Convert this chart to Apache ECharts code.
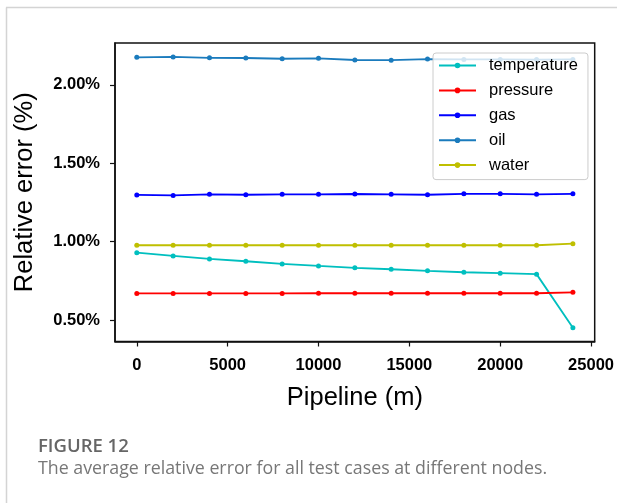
<!DOCTYPE html>
<html>
<head>
<meta charset="utf-8">
<script src="https://cdn.jsdelivr.net/npm/echarts@6/dist/echarts.min.js"></script>
<style>
html,body{margin:0;padding:0;background:#fff;}
#chart{width:617px;height:503px;}
</style>
</head>
<body>
<div id="chart"></div>
<script>
// ---- data ----
const pipeline = [0, 2000, 4000, 6000, 8000, 10000, 12000, 14000, 16000, 18000, 20000, 22000, 24000];
const seriesNames = ['temperature', 'pressure', 'gas', 'oil', 'water'];
const temperature = [0.930, 0.909, 0.890, 0.875, 0.858, 0.845, 0.833, 0.824, 0.814, 0.805, 0.799, 0.793, 0.451];
const pressure = [0.670, 0.670, 0.670, 0.670, 0.670, 0.671, 0.671, 0.671, 0.671, 0.671, 0.671, 0.671, 0.677];
const gas = [1.298, 1.295, 1.302, 1.299, 1.302, 1.302, 1.304, 1.302, 1.299, 1.305, 1.305, 1.302, 1.305];
const oil = [2.175, 2.178, 2.172, 2.171, 2.166, 2.169, 2.158, 2.157, 2.164, 2.162, 2.162, 2.161, 2.162];
const water = [0.977, 0.977, 0.977, 0.977, 0.977, 0.977, 0.977, 0.977, 0.977, 0.977, 0.977, 0.977, 0.987];
const xTicks = [0, 5000, 10000, 15000, 20000, 25000];
const yTicks = [0.5, 1.0, 1.5, 2.0];
const xTitle = 'Pipeline (m)';
const yTitle = 'Relative error (%)';
const figLabel = 'FIGURE 12';
const figCaption = 'The average relative error for all test cases at different nodes.';

const colors = ['#00bfbf', '#ff0000', '#0000ff', '#1a7bbd', '#bfbf00'];
const values = [temperature, pressure, gas, oil, water];

const chart = echarts.init(document.getElementById('chart'), null, {renderer: 'canvas'});
const font = 'Liberation Sans';

chart.setOption({
  animation: false,
  backgroundColor: '#fff',
  grid: {
    left: 115, top: 43, right: 21, bottom: 161.5,
    show: true, borderColor: '#111', borderWidth: 1.5, backgroundColor: 'transparent'
  },
  legend: {
    orient: 'vertical',
    left: 433, top: 53,
    data: seriesNames,
    itemWidth: 37, itemHeight: 7, itemGap: 7.9,
    padding: [4, 10, 6, 5],
    borderColor: '#cccccc', borderWidth: 1, borderRadius: 3,
    backgroundColor: 'rgba(255,255,255,0.8)',
    textStyle: {fontFamily: font, fontSize: 16.5, lineHeight: 14, color: '#000', padding: [0, 0, 0, 8]}
  },
  xAxis: {
    type: 'value',
    min: -1200, max: 25200,
    name: xTitle, nameLocation: 'middle', nameGap: 43,
    nameTextStyle: {fontFamily: font, fontSize: 25.5, color: '#000'},
    axisLine: {show: true, onZero: false, lineStyle: {color: '#111', width: 1.5}},
    axisTick: {show: true, length: 5, customValues: xTicks, lineStyle: {color: '#111', width: 1.2}},
    axisLabel: {
      customValues: xTicks, fontFamily: font, fontSize: 16.5, fontWeight: 'bold', color: '#000', margin: 15,
      formatter: v => String(v)
    },
    splitLine: {show: false}
  },
  yAxis: {
    type: 'value',
    min: 0.3635, max: 2.2665,
    name: yTitle, nameLocation: 'middle', nameGap: 77, nameRotate: 90,
    nameTextStyle: {fontFamily: font, fontSize: 25.5, color: '#000'},
    axisLine: {show: true, onZero: false, lineStyle: {color: '#111', width: 1.5}},
    axisTick: {show: true, length: 5, customValues: yTicks, lineStyle: {color: '#111', width: 1.2}},
    axisLabel: {
      customValues: yTicks, fontFamily: font, fontSize: 16.5, fontWeight: 'bold', color: '#000', margin: 15,
      formatter: v => v.toFixed(2) + '%'
    },
    splitLine: {show: false}
  },
  series: seriesNames.map((n, i) => ({
    name: n,
    type: 'line',
    data: pipeline.map((x, j) => [x, values[i][j]]),
    symbol: 'circle',
    symbolSize: 5,
    showSymbol: true,
    itemStyle: {color: colors[i]},
    lineStyle: {color: colors[i], width: 1.8}
  })),
  graphic: [
    {type: 'line', shape: {x1: 6, y1: 7.5, x2: 617, y2: 7.5}, style: {stroke: '#d4d4d4', lineWidth: 1.5}},
    {type: 'line', shape: {x1: 6.5, y1: 7.5, x2: 6.5, y2: 503}, style: {stroke: '#d4d4d4', lineWidth: 1.5}},
    {type: 'text', left: 38, top: 437, style: {text: figLabel, fontFamily: 'Open Sans', fontSize: 18.5, fontWeight: 600, fill: '#666666'}},
    {type: 'text', left: 38, top: 460, style: {text: figCaption, fontFamily: 'Open Sans', fontSize: 17.8, fill: '#777777'}}
  ]
});
</script>
</body>
</html>
